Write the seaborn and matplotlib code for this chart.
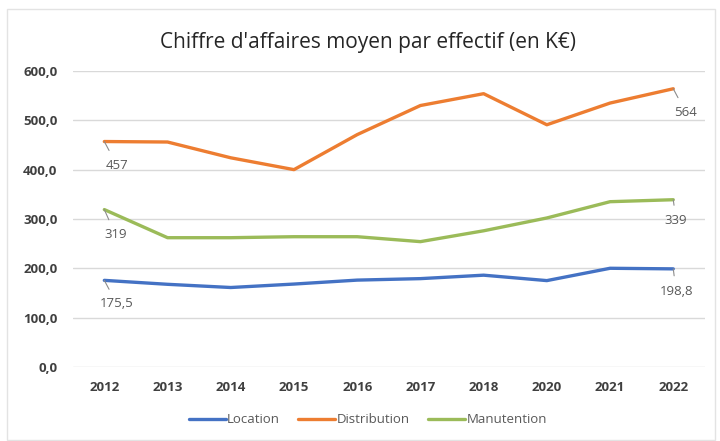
import matplotlib
matplotlib.use("Agg")
import matplotlib.pyplot as plt
import seaborn as sns
import pandas as pd
from matplotlib.patches import Rectangle
from matplotlib.ticker import FuncFormatter

years = ["2012", "2013", "2014", "2015", "2016", "2017", "2018", "2020", "2021", "2022"]
location = [175.5, 167.5, 161, 168, 176, 179, 186, 175, 200, 198.8]
distribution = [457, 456, 424, 400, 471, 530, 554, 491, 535, 564]
manutention = [319, 262, 262, 264, 264, 254, 276, 302, 335, 339]
series_names = ["Location", "Distribution", "Manutention"]
colors = ["#4472C4", "#ED7D31", "#9BBB59"]

# first / last point labels
label_texts = {
    "Location": ("175,5", "198,8"),
    "Distribution": ("457", "564"),
    "Manutention": ("319", "339"),
}

df = pd.DataFrame({"Année": years, "Location": location,
                   "Distribution": distribution, "Manutention": manutention})
long = df.melt(id_vars="Année", var_name="Série", value_name="Valeur")

sns.set_style("white")
plt.rcParams["font.family"] = ["Open Sans", "DejaVu Sans"]

fig = plt.figure(figsize=(7.2, 4.41), dpi=100)
ax = fig.add_axes([0.101, 0.168, 0.878, 0.671])

sns.lineplot(data=long, x="Année", y="Valeur", hue="Série", hue_order=series_names,
             palette=colors, linewidth=2.4, sort=False, ax=ax, legend=True)

ax.set_xlim(-0.5, len(years) - 0.5)
ax.set_ylim(0, 600)
ax.set_yticks(range(0, 601, 100))
ax.yaxis.set_major_formatter(FuncFormatter(lambda v, p: f"{v:.1f}".replace(".", ",")))
ax.grid(axis="y", color="#D9D9D9", linewidth=1)
ax.set_axisbelow(True)
for s in ax.spines.values():
    s.set_visible(False)
ax.tick_params(axis="both", length=0, labelsize=9.5, labelcolor="#404040")
for lab in ax.get_xticklabels() + ax.get_yticklabels():
    lab.set_fontweight("bold")
ax.tick_params(axis="y", pad=11)
ax.tick_params(axis="x", pad=10)
ax.set_xlabel("")
ax.set_ylabel("")

# leader-line labels
offsets = {
    ("Location", 0): (9, -17), ("Location", 1): (2, -16),
    ("Distribution", 0): (9, -17), ("Distribution", 1): (9, -17),
    ("Manutention", 0): (8, -18), ("Manutention", 1): (2, -15),
}
data_map = {"Location": location, "Distribution": distribution, "Manutention": manutention}
for name in series_names:
    vals = data_map[name]
    for k, idx in enumerate([0, len(years) - 1]):
        ax.annotate(label_texts[name][k], xy=(idx, vals[idx]),
                    xytext=offsets[(name, k)], textcoords="offset points",
                    ha="center", va="center", fontsize=9.5, color="#595959",
                    arrowprops=dict(arrowstyle="-", color="#8C8C8C", lw=0.8,
                                    shrinkA=4, shrinkB=0))

fig.text(0.511, 0.903, "Chiffre d'affaires moyen par effectif (en K€)",
         ha="center", va="center", fontsize=15, color="#262626")

handles, labels = ax.get_legend_handles_labels()
ax.get_legend().remove()
fig.legend(handles, labels, loc="center", bbox_to_anchor=(0.511, 0.048),
           ncol=3, frameon=False, fontsize=9.5, handlelength=2.8, handletextpad=0.1,
           columnspacing=1.4, labelcolor="#595959")

fig.patches.append(Rectangle((0.01, 0.003), 0.983, 0.976, transform=fig.transFigure,
                             fill=False, edgecolor="#E3E3E3", linewidth=1))

fig.savefig("out.png", dpi=100)
